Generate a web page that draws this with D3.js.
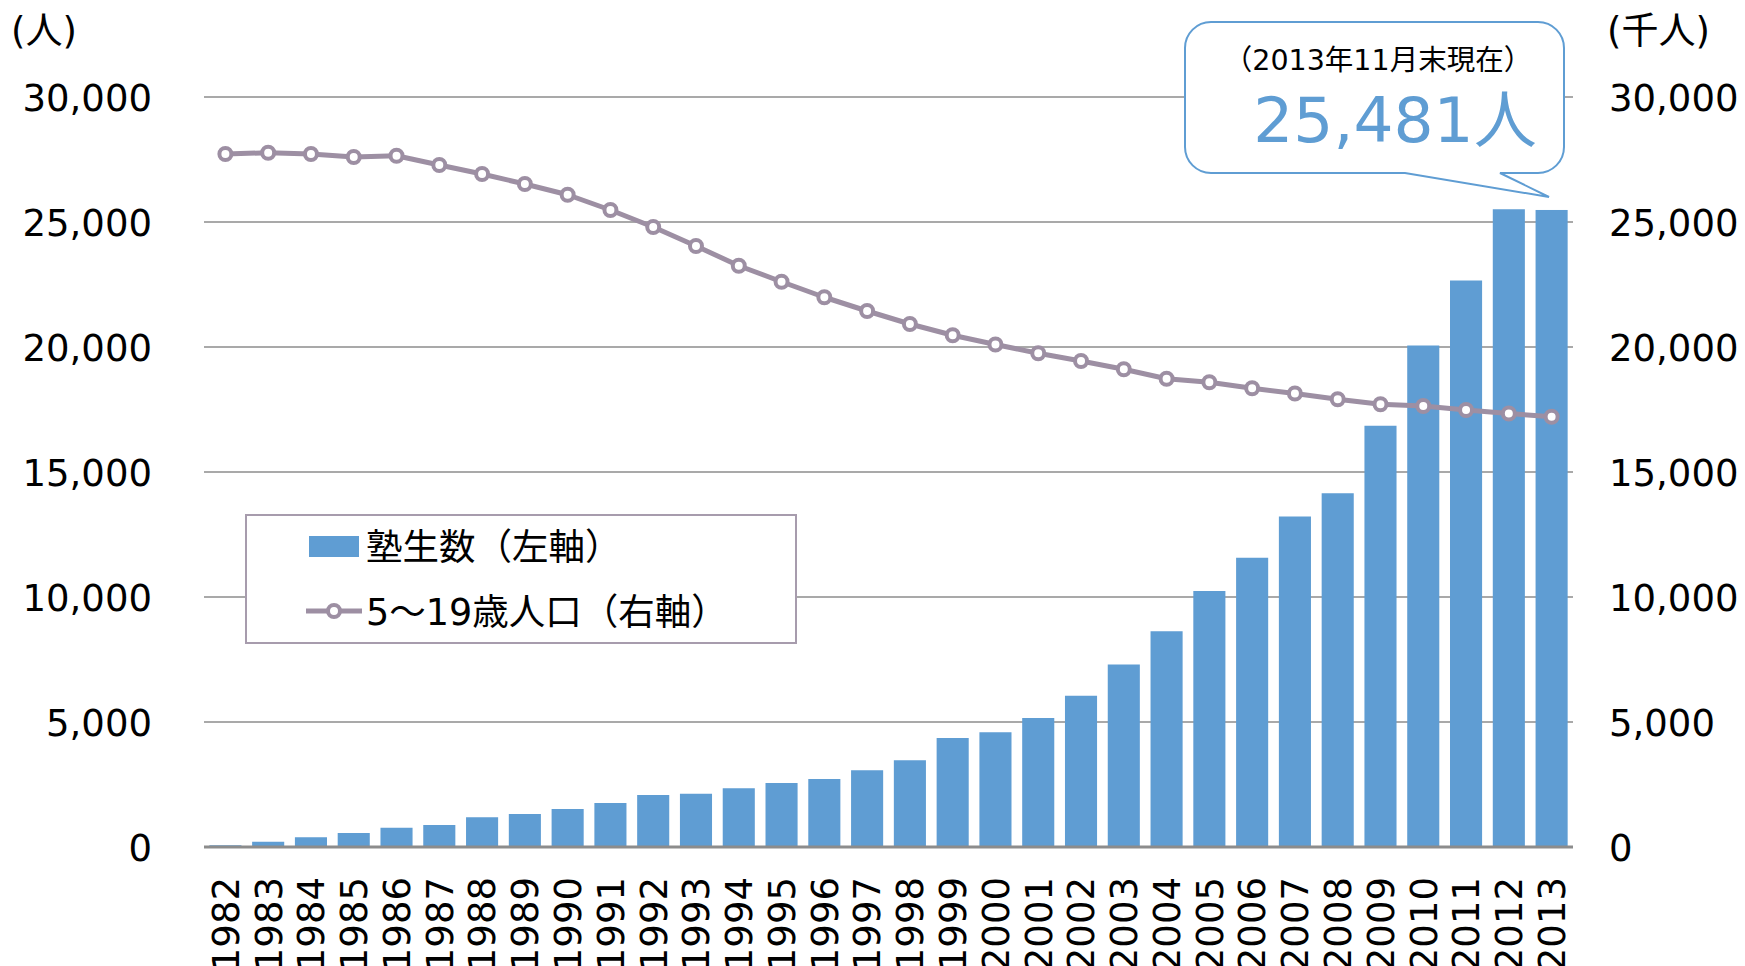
<!DOCTYPE html>
<html>
<head>
<meta charset="utf-8">
<script src="https://cdn.jsdelivr.net/npm/d3@7"></script>
<style>
  html, body { margin: 0; padding: 0; background: #fff; }
  svg { display: block; font-family: "DejaVu Sans", "Noto Sans CJK JP", sans-serif; }
</style>
</head>
<body>
<svg id="chart" width="1745" height="966"></svg>
<script>
// ---- data ----
const years = [1982,1983,1984,1985,1986,1987,1988,1989,1990,1991,1992,1993,1994,1995,1996,1997,1998,1999,2000,2001,2002,2003,2004,2005,2006,2007,2008,2009,2010,2011,2012,2013];
const students = [70,210,390,560,770,880,1190,1320,1520,1760,2080,2130,2350,2560,2720,3070,3470,4360,4590,5160,6050,7300,8630,10240,11570,13220,14150,16850,20060,22660,25510,25481];
const population = [27720,27770,27720,27600,27650,27280,26920,26520,26090,25480,24800,24040,23250,22610,21990,21440,20920,20470,20100,19750,19440,19110,18730,18590,18350,18140,17910,17710,17640,17480,17340,17210];
const leftTicks = [0,5000,10000,15000,20000,25000,30000];
const rightTicks = [0,5000,10000,15000,20000,25000,30000];
const leftUnit = "(人)";
const rightUnit = "(千人)";
const legendLabels = ["塾生数（左軸）", "5～19歳人口（右軸）"];
const calloutSub = "（2013年11月末現在）";
const calloutMain = "25,481人";

// ---- styles ----
const barColor = "#5f9dd3";
const lineColor = "#9d8fa3";
const gridColor = "#8c8c8c";
const fmt = d3.format(",");

const svg = d3.select("#chart");
const x0 = 204, x1 = 1573, yTop = 97, yBot = 847;

const x = d3.scaleBand().domain(years).range([x0, x1]).paddingInner(0.25).paddingOuter(0.125);
const yL = d3.scaleLinear().domain([0, 30000]).range([yBot, yTop]);
const yR = d3.scaleLinear().domain([0, 30000]).range([yBot, yTop]);

// gridlines
svg.append("g").selectAll("line").data(leftTicks.filter(d => d > 0)).join("line")
  .attr("x1", x0).attr("x2", x1)
  .attr("y1", d => yL(d)).attr("y2", d => yL(d))
  .attr("stroke", gridColor).attr("stroke-width", 1.6);

// left axis
const leftAxis = d3.axisLeft(yL).tickValues(leftTicks).tickFormat(fmt).tickSize(0).tickPadding(0);
const gL = svg.append("g").attr("transform", `translate(152,0)`).call(leftAxis);
gL.select(".domain").remove();
gL.selectAll("text").attr("font-size", 37).attr("fill", "#000").attr("font-family", "DejaVu Sans, Noto Sans CJK JP, sans-serif").attr("dy", "0.36em");

// right axis
const rightAxis = d3.axisRight(yR).tickValues(rightTicks).tickFormat(fmt).tickSize(0).tickPadding(0);
const gR = svg.append("g").attr("transform", `translate(1609,0)`).call(rightAxis);
gR.select(".domain").remove();
gR.selectAll("text").attr("font-size", 37).attr("fill", "#000").attr("font-family", "DejaVu Sans, Noto Sans CJK JP, sans-serif").attr("dy", "0.36em");

// bars
svg.append("g").selectAll("rect").data(years).join("rect")
  .attr("x", d => x(d))
  .attr("width", x.bandwidth())
  .attr("y", (d, i) => yL(students[i]))
  .attr("height", (d, i) => yBot - yL(students[i]))
  .attr("fill", barColor);

// baseline
svg.append("line").attr("x1", x0).attr("x2", x1).attr("y1", yBot).attr("y2", yBot)
  .attr("stroke", gridColor).attr("stroke-width", 3);

// x axis labels
const bottomAxis = d3.axisBottom(x).tickSize(0).tickPadding(0);
const gB = svg.append("g").attr("transform", `translate(0,${yBot})`).call(bottomAxis);
gB.select(".domain").remove();
gB.selectAll("text")
  .attr("font-size", 37).attr("fill", "#000")
  .attr("font-family", "DejaVu Sans, sans-serif")
  .attr("text-anchor", "end")
  .attr("transform", "translate(0,30) rotate(-90)")
  .attr("x", 0).attr("y", 0).attr("dy", "0.36em");

// line series
const cx = d => x(d) + x.bandwidth() / 2;
const line = d3.line().x((d, i) => cx(years[i])).y(d => yR(d));
svg.append("path").datum(population)
  .attr("d", line).attr("fill", "none")
  .attr("stroke", lineColor).attr("stroke-width", 5).attr("stroke-linejoin", "round");
svg.append("g").selectAll("circle").data(population).join("circle")
  .attr("cx", (d, i) => cx(years[i])).attr("cy", d => yR(d))
  .attr("r", 6).attr("fill", "#fff").attr("stroke", lineColor).attr("stroke-width", 4);

// unit labels
svg.append("text").attr("x", 11).attr("y", 31).attr("dy", "0.36em")
  .attr("font-size", 37).text(leftUnit);
svg.append("text").attr("x", 1607).attr("y", 31).attr("dy", "0.36em")
  .attr("font-size", 37).text(rightUnit);

// legend
const lg = svg.append("g");
lg.append("rect").attr("x", 246).attr("y", 515).attr("width", 550).attr("height", 128)
  .attr("fill", "#fff").attr("stroke", "#a79cad").attr("stroke-width", 2);
lg.append("rect").attr("x", 309).attr("y", 536).attr("width", 50).attr("height", 21).attr("fill", barColor);
lg.append("text").attr("x", 366).attr("y", 547).attr("dy", "0.36em").attr("font-size", 36.5).text(legendLabels[0]);
lg.append("line").attr("x1", 306).attr("x2", 362).attr("y1", 611).attr("y2", 611)
  .attr("stroke", lineColor).attr("stroke-width", 5);
lg.append("circle").attr("cx", 334).attr("cy", 611).attr("r", 6)
  .attr("fill", "#fff").attr("stroke", lineColor).attr("stroke-width", 4);
lg.append("text").attr("x", 366).attr("y", 612).attr("dy", "0.36em").attr("font-size", 36.5).text(legendLabels[1]);

// callout
const bx0 = 1185, bx1 = 1564, by0 = 22, by1 = 173, r = 26;
const tailL = 1405, tailR = 1500, tipX = 1549, tipY = 197;
const p = d3.path();
p.moveTo(bx0 + r, by0);
p.lineTo(bx1 - r, by0);
p.arcTo(bx1, by0, bx1, by0 + r, r);
p.lineTo(bx1, by1 - r);
p.arcTo(bx1, by1, bx1 - r, by1, r);
p.lineTo(tailR, by1);
p.lineTo(tipX, tipY);
p.lineTo(tailL, by1);
p.lineTo(bx0 + r, by1);
p.arcTo(bx0, by1, bx0, by1 - r, r);
p.lineTo(bx0, by0 + r);
p.arcTo(bx0, by0, bx0 + r, by0, r);
p.closePath();
svg.append("path").attr("d", p.toString()).attr("fill", "#fff")
  .attr("stroke", barColor).attr("stroke-width", 2);
svg.append("text").attr("x", 1378).attr("y", 70).attr("text-anchor", "middle")
  .attr("font-size", 28.5).text(calloutSub);
svg.append("text").attr("x", 1395).attr("y", 142).attr("text-anchor", "middle")
  .attr("font-size", 63).attr("fill", barColor).text(calloutMain);
</script>
</body>
</html>
